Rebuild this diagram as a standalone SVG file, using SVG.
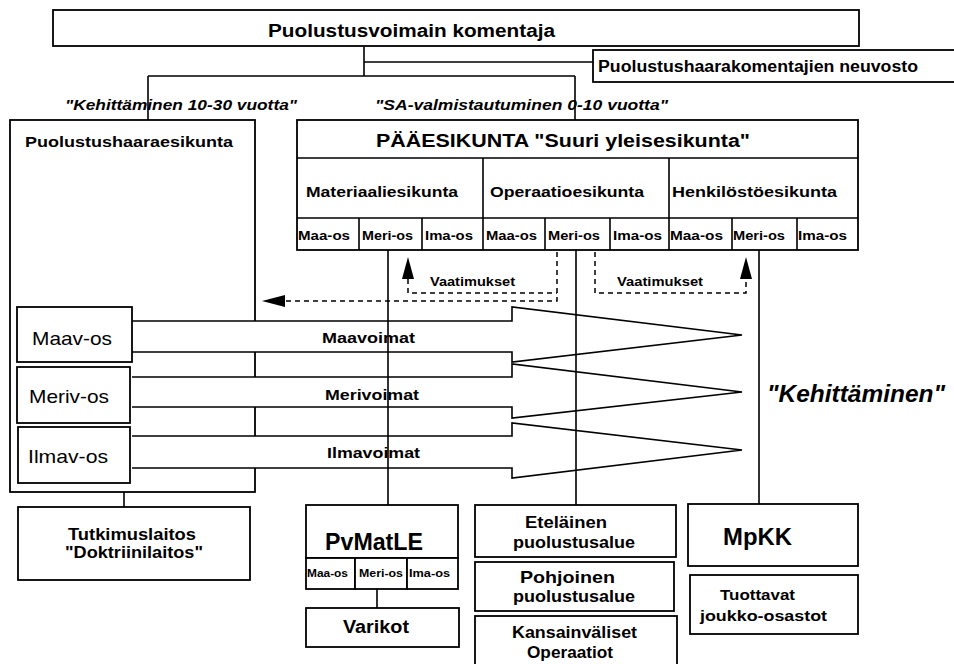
<svg xmlns="http://www.w3.org/2000/svg" width="954" height="664" viewBox="0 0 954 664">
<style>
.bx{fill:#fff;stroke:#000;stroke-width:1.8}
.ln{fill:none;stroke:#000;stroke-width:1.6}
.ds{fill:none;stroke:#000;stroke-width:1.5;stroke-dasharray:5 4}
.ar{fill:#fff;stroke:#000;stroke-width:1.6}
.hd{fill:#000}
text{font-family:"Liberation Sans",Arial,sans-serif;font-weight:bold;fill:#000}
.it{font-style:italic}
.rg{font-weight:normal}
</style>
<rect width="954" height="664" fill="#fff"/>
<g id="komentaja"><rect class="bx" x="53" y="10" width="806" height="36"/><text x="268" y="37" font-size="18" textLength="287" lengthAdjust="spacingAndGlyphs">Puolustusvoimain komentaja</text></g>
<g id="neuvosto"><rect class="bx" x="593" y="50" width="370" height="32"/><text x="598" y="72" font-size="16" textLength="320" lengthAdjust="spacingAndGlyphs">Puolustushaarakomentajien neuvosto</text></g>
<g id="labels-top">
<text class="it" x="65" y="110" font-size="15" textLength="232" lengthAdjust="spacingAndGlyphs">"Kehittäminen 10-30 vuotta"</text>
<text class="it" x="375" y="110" font-size="15" textLength="293" lengthAdjust="spacingAndGlyphs">"SA-valmistautuminen 0-10 vuotta"</text>
</g>
<g id="puolustushaaraesikunta"><rect class="bx" x="10" y="120" width="245" height="372"/><text x="25" y="147" font-size="15" textLength="208" lengthAdjust="spacingAndGlyphs">Puolustushaaraesikunta</text></g>
<g id="paaesikunta">
<rect class="bx" x="297" y="120" width="561" height="130"/>
<path class="ln" d="M297,158H858M297,218H858M483,158V250M669,158V250M359,218V250M422,218V250M545,218V250M610,218V250M732,218V250M797,218V250"/>
<text x="376" y="147" font-size="18" textLength="374" lengthAdjust="spacingAndGlyphs">PÄÄESIKUNTA "Suuri yleisesikunta"</text>
<text x="306" y="197" font-size="15" textLength="152" lengthAdjust="spacingAndGlyphs">Materiaaliesikunta</text>
<text x="490" y="197" font-size="15" textLength="154" lengthAdjust="spacingAndGlyphs">Operaatioesikunta</text>
<text x="672" y="197" font-size="15" textLength="165" lengthAdjust="spacingAndGlyphs">Henkilöstöesikunta</text>
<g font-size="12">
<text x="298" y="240" textLength="52" lengthAdjust="spacingAndGlyphs">Maa-os</text>
<text x="362" y="240" textLength="51" lengthAdjust="spacingAndGlyphs">Meri-os</text>
<text x="425" y="240" textLength="48" lengthAdjust="spacingAndGlyphs">Ima-os</text>
<text x="486" y="240" textLength="51" lengthAdjust="spacingAndGlyphs">Maa-os</text>
<text x="548" y="240" textLength="52" lengthAdjust="spacingAndGlyphs">Meri-os</text>
<text x="613" y="240" textLength="49" lengthAdjust="spacingAndGlyphs">Ima-os</text>
<text x="670" y="240" textLength="53" lengthAdjust="spacingAndGlyphs">Maa-os</text>
<text x="733" y="240" textLength="52" lengthAdjust="spacingAndGlyphs">Meri-os</text>
<text x="798" y="240" textLength="49" lengthAdjust="spacingAndGlyphs">Ima-os</text>
</g>
</g>
<g id="arrows">
<path class="ar" d="M132,321H512V307L742,335L512,362V352H132"/>
<path class="ar" d="M132,377H512V364L742,392L512,418V407H132"/>
<path class="ar" d="M132,436H512V423L742,450L512,478V468H132"/>
<text x="322" y="343" font-size="14" textLength="93" lengthAdjust="spacingAndGlyphs">Maavoimat</text>
<text x="325" y="400" font-size="14" textLength="94" lengthAdjust="spacingAndGlyphs">Merivoimat</text>
<text x="327" y="458" font-size="14" textLength="93" lengthAdjust="spacingAndGlyphs">Ilmavoimat</text>
</g>
<g id="maav-os"><rect class="bx" x="17" y="307" width="115" height="55"/><text class="rg" x="32" y="345" font-size="19" textLength="80" lengthAdjust="spacingAndGlyphs">Maav-os</text></g>
<g id="meriv-os"><rect class="bx" x="17" y="367" width="113" height="56"/><text class="rg" x="29" y="403" font-size="19" textLength="80" lengthAdjust="spacingAndGlyphs">Meriv-os</text></g>
<g id="ilmav-os"><rect class="bx" x="18" y="427" width="112" height="56"/><text class="rg" x="28" y="463" font-size="19" textLength="80" lengthAdjust="spacingAndGlyphs">Ilmav-os</text></g>
<g id="kehittaminen"><text class="it" x="767" y="402" font-size="23" textLength="178" lengthAdjust="spacingAndGlyphs">"Kehittäminen"</text></g>
<g id="connectors">
<path class="ln" d="M364,47V76M364,62H593M148,76H575M148,76V120M575,76V120"/>
<path class="ln" d="M124,492V507M388,250V505M576,250V505M759,250V504M377,589V608"/>
<path class="ds" d="M408,279V293H557"/>
<path class="ds" d="M557,252V301H285"/>
<path class="ds" d="M595,252V293H746V279"/>
<polygon class="hd" points="408,257 402,279 414,279"/>
<polygon class="hd" points="746,257 740,279 752,279"/>
<polygon class="hd" points="262,301 285,295 285,307"/>
<text x="430" y="286" font-size="12" textLength="85" lengthAdjust="spacingAndGlyphs">Vaatimukset</text>
<text x="617" y="286" font-size="12" textLength="86" lengthAdjust="spacingAndGlyphs">Vaatimukset</text>
</g>
<g id="tutkimuslaitos"><rect class="bx" x="18" y="507" width="232" height="73"/>
<text x="68" y="540" font-size="17" textLength="128" lengthAdjust="spacingAndGlyphs">Tutkimuslaitos</text>
<text x="65" y="558" font-size="17" textLength="138" lengthAdjust="spacingAndGlyphs">"Doktriinilaitos"</text></g>
<g id="pvmatle"><rect class="bx" x="306" y="505" width="152" height="53"/>
<text x="325" y="550" font-size="24" textLength="98" lengthAdjust="spacingAndGlyphs">PvMatLE</text>
<rect class="bx" x="306" y="558" width="49" height="31"/><rect class="bx" x="355" y="558" width="52" height="31"/><rect class="bx" x="407" y="558" width="51" height="31"/>
<g font-size="11"><text x="307" y="577" textLength="41" lengthAdjust="spacingAndGlyphs">Maa-os</text><text x="359" y="577" textLength="44" lengthAdjust="spacingAndGlyphs">Meri-os</text><text x="409" y="577" textLength="41" lengthAdjust="spacingAndGlyphs">Ima-os</text></g></g>
<g id="varikot"><rect class="bx" x="306" y="608" width="153" height="39"/><text x="343" y="633" font-size="18" textLength="66" lengthAdjust="spacingAndGlyphs">Varikot</text></g>
<g id="etelainen"><rect class="bx" x="475" y="505" width="201" height="52"/>
<text x="525" y="528" font-size="17" textLength="82" lengthAdjust="spacingAndGlyphs">Eteläinen</text>
<text x="513" y="548" font-size="17" textLength="122" lengthAdjust="spacingAndGlyphs">puolustusalue</text></g>
<g id="pohjoinen"><rect class="bx" x="475" y="562" width="199" height="49"/>
<text x="520" y="583" font-size="17" textLength="95" lengthAdjust="spacingAndGlyphs">Pohjoinen</text>
<text x="513" y="602" font-size="17" textLength="122" lengthAdjust="spacingAndGlyphs">puolustusalue</text></g>
<g id="kansainvaliset"><rect class="bx" x="475" y="616" width="202" height="60"/>
<text x="512" y="638" font-size="17" textLength="125" lengthAdjust="spacingAndGlyphs">Kansainväliset</text>
<text x="527" y="658" font-size="17" textLength="86" lengthAdjust="spacingAndGlyphs">Operaatiot</text></g>
<g id="mpkk"><rect class="bx" x="688" y="504" width="170" height="62"/><text x="723" y="545" font-size="24" textLength="69" lengthAdjust="spacingAndGlyphs">MpKK</text></g>
<g id="tuottavat"><rect class="bx" x="690" y="575" width="168" height="59"/>
<text x="720" y="600" font-size="15" textLength="75" lengthAdjust="spacingAndGlyphs">Tuottavat</text>
<text x="700" y="621" font-size="15" textLength="127" lengthAdjust="spacingAndGlyphs">joukko-osastot</text></g>
</svg>
